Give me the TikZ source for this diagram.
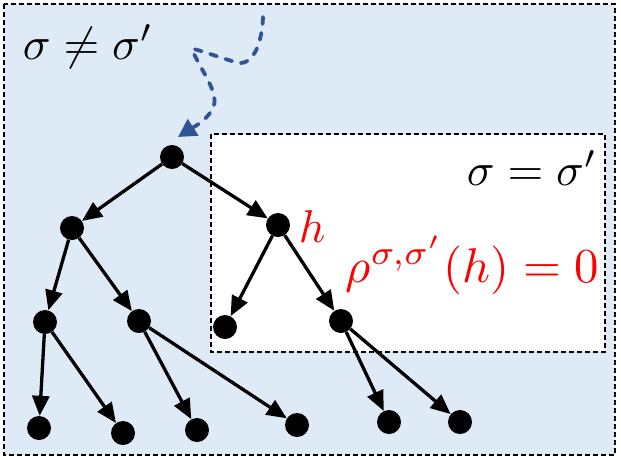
\documentclass[tikz,border=0pt]{standalone}
\usetikzlibrary{arrows.meta}
\definecolor{boxblue}{RGB}{222,235,247}
\definecolor{wavyblue}{RGB}{47,85,151}
\begin{document}
\begin{tikzpicture}[x=1pt,y=-1pt,
  dot/.style={circle,fill=black,inner sep=0pt,minimum size=24pt},
  arr/.style={-{Triangle[length=20pt,width=17pt]},line width=3.3pt},
  dashbox/.style={dash pattern=on 5pt off 3pt, line width=1.7pt},
  lbl/.style={scale=4.6, inner sep=0pt},
  wavy/.style={wavyblue, line width=3.8pt, line cap=round, dash pattern=on 7pt off 9pt,
    -{Triangle[length=18pt,width=19pt,fill=wavyblue]}}
]
\useasboundingbox (0,0) rectangle (621,459);
\draw[dashbox, fill=boxblue] (4,4) rectangle (615,455);
\draw[dashbox, fill=white] (211,134) rectangle (605,352);

\node[dot] (r) at (172,157) {};
\node[dot] (a) at (72,228) {};
\node[dot] (h) at (278,225) {};
\node[dot] (a1) at (45,322) {};
\node[dot] (a2) at (139,321) {};
\node[dot] (h1) at (225,327) {};
\node[dot] (h2) at (341,321) {};
\node[dot] (l1) at (39,428) {};
\node[dot] (l2) at (123,433) {};
\node[dot] (l3) at (197,430) {};
\node[dot] (l4) at (297,425) {};
\node[dot] (l5) at (389,422) {};
\node[dot] (l6) at (460,422) {};

\draw[arr] (r) -- (a);
\draw[arr] (r) -- (h);
\draw[arr] (a) -- (a1);
\draw[arr] (a) -- (a2);
\draw[arr] (h) -- (h1);
\draw[arr] (h) -- (h2);
\draw[arr] (a1) -- (l1);
\draw[arr] (a1) -- (l2);
\draw[arr] (a2) -- (l3);
\draw[arr] (a2) -- (l4);
\draw[arr] (h2) -- (l5);
\draw[arr] (h2) -- (l6);

\coordinate (ws) at (263,17);
\coordinate (we) at (178,137);
\draw[wavy] (ws) .. controls (262,45) and (252,68) .. (235,62)
  .. controls (215,56) and (194,48) .. (192,49)
  .. controls (198,66) and (218,90) .. (214,105)
  .. controls (210,119) and (192,128) .. (we);

\node[lbl, anchor=base west] (ne) at (22,59) {$\sigma\neq\sigma'$};
\node[lbl, anchor=base east] (eq) at (598,185) {$\sigma=\sigma'$};
\node[lbl, anchor=base west, text=red] (hl) at (298,242) {$h$};
\node[lbl, anchor=base east, text=red, scale=1.06] (rho) at (600,282) {$\rho^{\sigma,\sigma'}(h)=0$};
\end{tikzpicture}
\end{document}
